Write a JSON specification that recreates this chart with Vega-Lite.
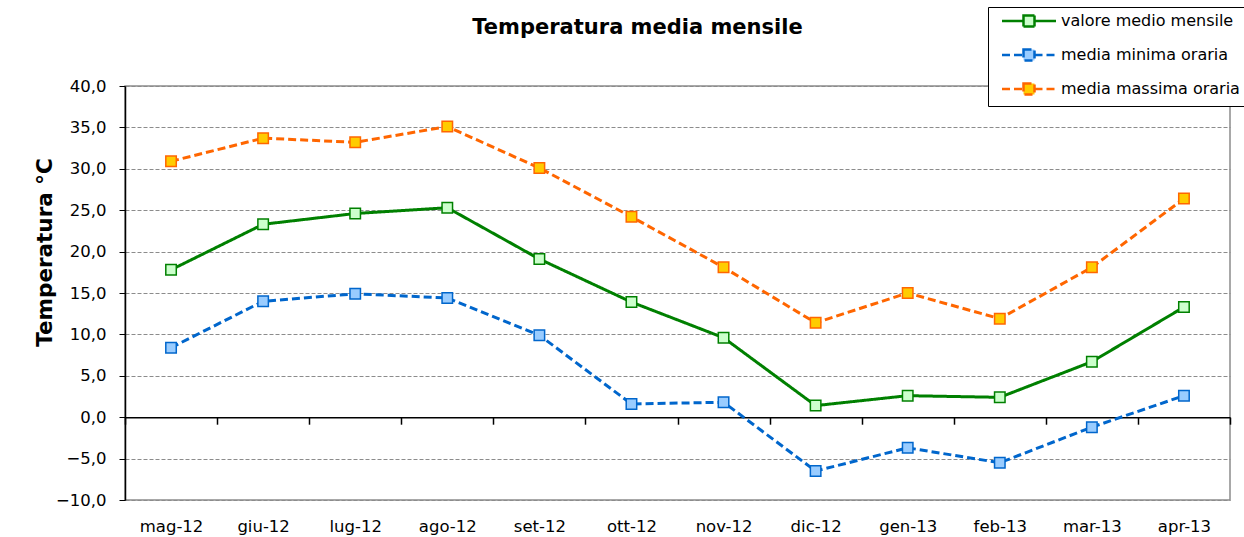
{
  "$schema": "https://vega.github.io/schema/vega-lite/v6.json",
  "width": 1105,
  "height": 414,
  "autosize": {"type": "none"},
  "padding": {"left": 125, "top": 86, "right": 14, "bottom": 37},
  "background": "white",
  "title": {"text": "Temperatura media mensile", "fontSize": 21, "font": "DejaVu Sans", "fontWeight": "bold", "color": "black", "anchor": "middle", "dx": -40, "offset": -31},
  "data": {"values": [
    {"mese": "mag-12", "serie": "valore medio mensile", "valore": 17.8},
    {"mese": "mag-12", "serie": "media minima oraria", "valore": 8.4},
    {"mese": "mag-12", "serie": "media massima oraria", "valore": 30.9},
    {"mese": "giu-12", "serie": "valore medio mensile", "valore": 23.3},
    {"mese": "giu-12", "serie": "media minima oraria", "valore": 14.0},
    {"mese": "giu-12", "serie": "media massima oraria", "valore": 33.7},
    {"mese": "lug-12", "serie": "valore medio mensile", "valore": 24.6},
    {"mese": "lug-12", "serie": "media minima oraria", "valore": 14.9},
    {"mese": "lug-12", "serie": "media massima oraria", "valore": 33.2},
    {"mese": "ago-12", "serie": "valore medio mensile", "valore": 25.3},
    {"mese": "ago-12", "serie": "media minima oraria", "valore": 14.4},
    {"mese": "ago-12", "serie": "media massima oraria", "valore": 35.1},
    {"mese": "set-12", "serie": "valore medio mensile", "valore": 19.1},
    {"mese": "set-12", "serie": "media minima oraria", "valore": 9.9},
    {"mese": "set-12", "serie": "media massima oraria", "valore": 30.1},
    {"mese": "ott-12", "serie": "valore medio mensile", "valore": 13.9},
    {"mese": "ott-12", "serie": "media minima oraria", "valore": 1.6},
    {"mese": "ott-12", "serie": "media massima oraria", "valore": 24.2},
    {"mese": "nov-12", "serie": "valore medio mensile", "valore": 9.6},
    {"mese": "nov-12", "serie": "media minima oraria", "valore": 1.8},
    {"mese": "nov-12", "serie": "media massima oraria", "valore": 18.1},
    {"mese": "dic-12", "serie": "valore medio mensile", "valore": 1.4},
    {"mese": "dic-12", "serie": "media minima oraria", "valore": -6.5},
    {"mese": "dic-12", "serie": "media massima oraria", "valore": 11.4},
    {"mese": "gen-13", "serie": "valore medio mensile", "valore": 2.6},
    {"mese": "gen-13", "serie": "media minima oraria", "valore": -3.7},
    {"mese": "gen-13", "serie": "media massima oraria", "valore": 15.0},
    {"mese": "feb-13", "serie": "valore medio mensile", "valore": 2.4},
    {"mese": "feb-13", "serie": "media minima oraria", "valore": -5.5},
    {"mese": "feb-13", "serie": "media massima oraria", "valore": 11.9},
    {"mese": "mar-13", "serie": "valore medio mensile", "valore": 6.7},
    {"mese": "mar-13", "serie": "media minima oraria", "valore": -1.2},
    {"mese": "mar-13", "serie": "media massima oraria", "valore": 18.1},
    {"mese": "apr-13", "serie": "valore medio mensile", "valore": 13.3},
    {"mese": "apr-13", "serie": "media minima oraria", "valore": 2.6},
    {"mese": "apr-13", "serie": "media massima oraria", "valore": 26.4}
  ]},
  "encoding": {
    "x": {
      "field": "mese", "type": "nominal", "sort": null, "bandPosition": 0.5,
      "scale": {"type": "band", "paddingInner": 0, "paddingOuter": 0},
      "axis": {"title": null, "offset": -82.8, "tickBand": "extent", "tickSize": 7, "tickColor": "black", "tickWidth": 1.5, "domainColor": "black", "domainWidth": 1.5, "labelFont": "DejaVu Sans", "labelFontSize": 16.5, "labelColor": "black", "labelPadding": 94, "labelAngle": 0, "grid": false}
    },
    "y": {
      "field": "valore", "type": "quantitative",
      "scale": {"domain": [-10, 40], "nice": false, "zero": false},
      "axis": {"values": [-10, -5, 0, 5, 10, 15, 20, 25, 30, 35, 40], "labelExpr": "replace(format(datum.value,'.1f'),'.',',')", "title": "Temperatura °C", "titleFont": "DejaVu Sans", "titleFontSize": 21.5, "titleFontWeight": "bold", "titleColor": "black", "titleX": -80, "titleY": 166, "titleAngle": -90, "titleAlign": "center", "titleBaseline": "middle", "labelFont": "DejaVu Sans", "labelFontSize": 16.5, "labelColor": "black", "labelPadding": 13, "tickSize": 6, "tickColor": "black", "domainColor": "black", "domainWidth": 1.5, "grid": true, "gridColor": "#8c8c8c", "gridDash": [4, 2], "gridWidth": 1}
    }
  },
  "layer": [
    {
      "mark": {"type": "line", "strokeWidth": 3},
      "encoding": {
        "stroke": {"field": "serie", "type": "nominal", "scale": {"domain": ["valore medio mensile", "media minima oraria", "media massima oraria"], "range": ["#008000", "#0066CC", "#FF6600"]}, "legend": {"title": null}},
        "strokeDash": {"field": "serie", "type": "nominal", "scale": {"domain": ["valore medio mensile", "media minima oraria", "media massima oraria"], "range": [[1, 0], [8, 4], [8, 4]]}, "legend": {"title": null}}
      }
    },
    {
      "mark": {"type": "point", "shape": "square", "filled": true, "size": 110, "strokeWidth": 1.5, "opacity": 1},
      "encoding": {
        "stroke": {"field": "serie", "type": "nominal", "legend": {"title": null}},
        "fill": {"field": "serie", "type": "nominal", "scale": {"domain": ["valore medio mensile", "media minima oraria", "media massima oraria"], "range": ["#CCFFCC", "#99CCFF", "#FFCC00"]}, "legend": {"title": null}}
      }
    }
  ],
  "config": {
    "view": {"stroke": "#8c8c8c", "strokeWidth": 1.5},
    "legend": {"orient": "none", "legendX": 863, "legendY": -79, "symbolType": "M-5.4,0H-1.1M1.1,0H5.4M-1.1,-1.1H1.1V1.1H-1.1Z", "symbolSize": 100, "symbolStrokeWidth": 2.5, "symbolOffset": 27, "labelOffset": 24, "labelLimit": 300, "labelFont": "DejaVu Sans", "labelFontSize": 16, "labelColor": "black", "rowPadding": 12, "padding": 6, "strokeColor": "black", "fillColor": "white", "symbolOpacity": 1}
  }
}
